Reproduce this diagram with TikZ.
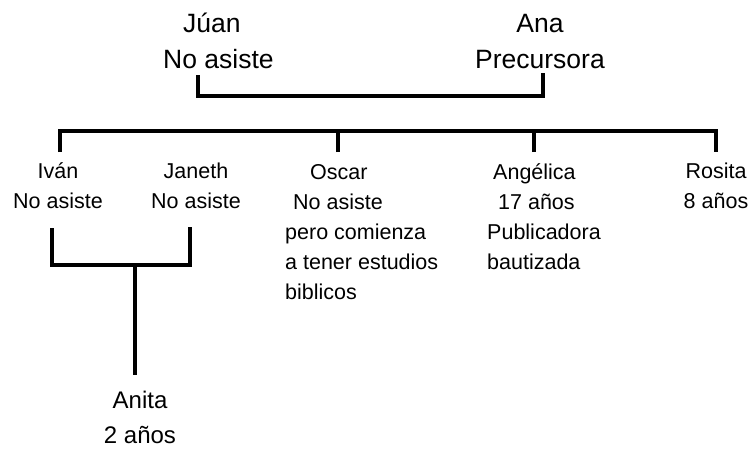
\documentclass[tikz,border=0pt]{standalone}
\usepackage{fontspec}
\setmainfont{Liberation Sans}
\tikzset{
  lbl/.style={inner sep=0pt, anchor=base},
  big/.style={lbl, font=\fontsize{26.5}{36}\selectfont},
  mid/.style={lbl, font=\fontsize{21.5}{30}\selectfont},
  kid/.style={lbl, font=\fontsize{24}{35}\selectfont},
  link/.style={line width=4pt, line join=miter, line cap=butt, draw=black}
}
\newcommand{\stack}[2]{\begin{tabular}[t]{@{}#1@{}}#2\end{tabular}}
\begin{document}
\begin{tikzpicture}[x=1pt,y=-1pt]
\useasboundingbox (0,0) rectangle (752,448);
% parents
\node[big, anchor=base west] (juan) at (163,32) {\stack{l}{\hspace*{20pt}Júan\\No asiste}};
\node[big] (ana) at (540,32) {\stack{c}{Ana\\Precursora}};
% children
\node[mid] (ivan) at (58,178) {\stack{c}{Iván\\No asiste}};
\node[mid] (janeth) at (196,178) {\stack{c}{Janeth\\No asiste}};
\node[mid, anchor=base west] (oscar) at (285,179) {\stack{l}{\hspace*{25pt}Oscar\\\hspace*{8pt}No asiste\\pero comienza\\a tener estudios\\biblicos}};
\node[mid, anchor=base west] (angelica) at (487,179) {\stack{l}{\hspace*{6pt}Angélica\\\hspace*{11pt}17 años\\Publicadora\\bautizada}};
\node[mid] (rosita) at (716,178) {\stack{c}{Rosita\\8 años}};
% grandchild
\node[kid] (anita) at (140,408) {\stack{c}{Anita\\2 años}};
% coordinates
\coordinate (pL) at (198,75);
\coordinate (pR) at (543,73);
\coordinate (pB) at (0,96);
\coordinate (sL) at (60,152);
\coordinate (sR) at (716,152);
\coordinate (sTop) at (0,131);
\coordinate (tO) at (338,152);
\coordinate (tA) at (534,152);
\coordinate (cL) at (52,228);
\coordinate (cR) at (190,227);
\coordinate (cB) at (0,265);
\coordinate (gT) at (135,265);
\coordinate (gB) at (135,375);
% connectors
\draw[link] (pL) -- (pL |- pB) -- (pR |- pB) -- (pR);
\draw[link] (sL) -- (sL |- sTop) -- (sR |- sTop) -- (sR);
\draw[link] (tO) -- (tO |- sTop);
\draw[link] (tA) -- (tA |- sTop);
\draw[link] (cL) -- (cL |- cB) -- (cR |- cB) -- (cR);
\draw[link, line width=3.5pt] (gT) -- (gB);
\end{tikzpicture}
\end{document}
